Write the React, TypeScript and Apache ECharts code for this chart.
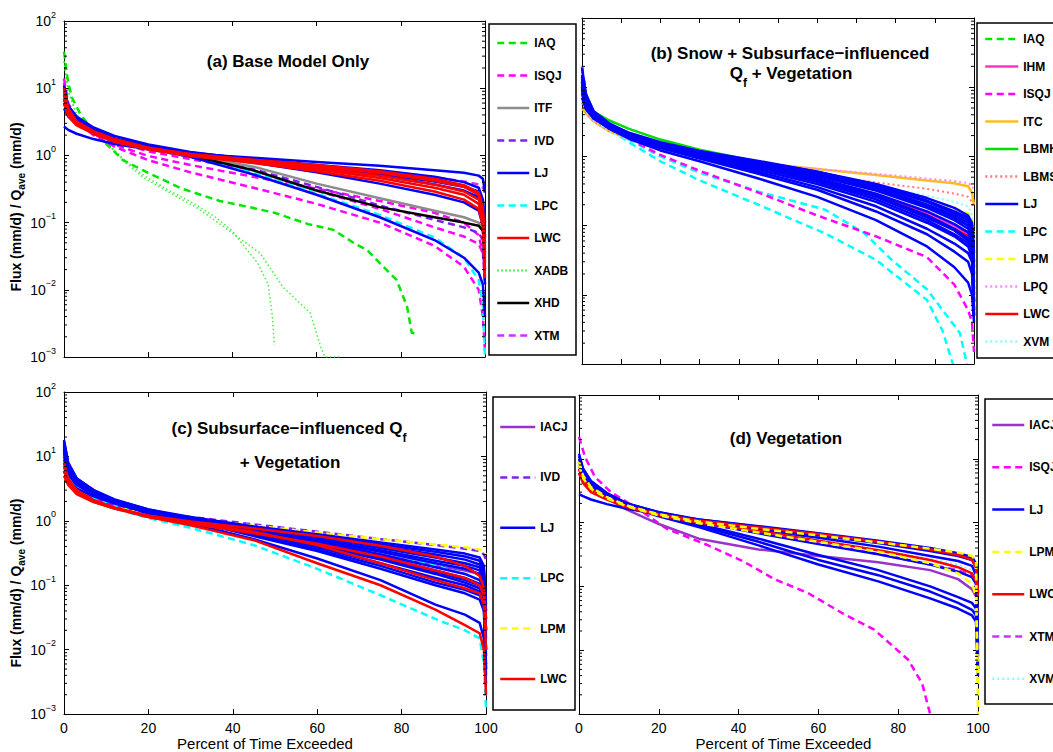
import React, { useEffect, useRef } from "react";
import * as echarts from "echarts";

const F = "Liberation Sans";

// common percent grid
const P = [0, 1, 3, 7, 12, 20, 30, 45, 60, 75, 88, 95, 98.5, 99.5, 100];

// log minor tick values
const MINOR_TICKS = [
  0.002, 0.003, 0.004, 0.005, 0.006, 0.007, 0.008, 0.009,
  0.02, 0.03, 0.04, 0.05, 0.06, 0.07, 0.08, 0.09,
  0.2, 0.3, 0.4, 0.5, 0.6, 0.7, 0.8, 0.9,
  2, 3, 4, 5, 6, 7, 8, 9,
  20, 30, 40, 50, 60, 70, 80, 90,
];

// ---------- panel (a) ----------
const A_IAQ_X = [0, 0.5, 1, 2, 4, 7, 10, 14, 20, 28, 37, 44, 50, 58, 64, 69, 72, 75, 79, 81.5, 82.6, 84];
const A_IAQ = [35, 20, 12, 7, 4, 2.3, 1.5, 0.85, 0.55, 0.32, 0.21, 0.17, 0.14, 0.095, 0.078, 0.049, 0.039, 0.025, 0.014, 0.0056, 0.0023, 0.0022];
const A_XADB1_X = [0, 1, 3, 7, 10, 14, 19, 25, 31, 36, 40, 43, 46, 48.5, 49.5, 50];
const A_XADB1 = [25, 9, 4, 2.2, 1.6, 0.9, 0.5, 0.3, 0.19, 0.12, 0.075, 0.043, 0.025, 0.012, 0.004, 0.0015];
const A_XADB2_X = [0, 1, 3, 7, 10, 14, 19, 25, 32, 40, 46.6, 52, 58.5, 61, 62, 66];
const A_XADB2 = [25, 9, 4, 2.2, 1.55, 0.85, 0.46, 0.28, 0.16, 0.07, 0.035, 0.011, 0.0045, 0.0014, 0.001, 0.001];
const A_ISQJ1 = [14, 6, 3.5, 2.1, 1.45, 0.98, 0.72, 0.48, 0.32, 0.21, 0.14, 0.1, 0.065, 0.035, 0.012];
const A_ISQJ2 = [12, 5, 3.2, 2.0, 1.35, 0.85, 0.56, 0.33, 0.19, 0.1, 0.045, 0.022, 0.01, 0.004, 0.0012];
const A_ISQJ3 = [10, 5, 3.2, 2.2, 1.6, 1.15, 0.88, 0.6, 0.3, 0.16, 0.085, 0.062, 0.048, 0.035, 0.02];
const A_LPC = [9, 5, 3.4, 2.3, 1.7, 1.25, 0.95, 0.56, 0.27, 0.13, 0.06, 0.03, 0.014, 0.006, 0.001];
const A_XTM = [6, 4, 3, 2.3, 1.75, 1.35, 1.08, 0.86, 0.69, 0.57, 0.47, 0.41, 0.37, 0.33, 0.28];
const A_IVD = [7, 4.2, 3, 2.2, 1.65, 1.25, 0.95, 0.62, 0.34, 0.18, 0.11, 0.085, 0.07, 0.055, 0.04];
const A_ITF = [7, 4.5, 3.1, 2.2, 1.7, 1.3, 1.0, 0.68, 0.38, 0.23, 0.15, 0.12, 0.1, 0.08, 0.035];
const A_XHD = [8, 5, 3.3, 2.3, 1.75, 1.3, 1.0, 0.6, 0.3, 0.17, 0.12, 0.1, 0.09, 0.075, 0.035];
const A_LJ1 = [2.7, 2.4, 2.1, 1.75, 1.48, 1.23, 1.06, 0.92, 0.8, 0.7, 0.6, 0.55, 0.5, 0.45, 0.28];
const A_LJ2 = [9, 5.5, 3.8, 2.6, 1.95, 1.45, 1.12, 0.86, 0.66, 0.5, 0.37, 0.3, 0.24, 0.16, 0.05];
const A_LJ3 = [7, 4.5, 3.3, 2.4, 1.8, 1.35, 1.05, 0.78, 0.56, 0.38, 0.26, 0.2, 0.15, 0.09, 0.012];
const A_LJ4 = [11, 5.5, 3.5, 2.4, 1.75, 1.3, 0.95, 0.52, 0.26, 0.12, 0.055, 0.03, 0.018, 0.012, 0.004];
const A_LJ5 = [6, 4, 3, 2.3, 1.75, 1.35, 1.08, 0.85, 0.68, 0.53, 0.41, 0.34, 0.29, 0.21, 0.1];
const A_LJ6 = [5, 3.8, 2.9, 2.25, 1.75, 1.38, 1.1, 0.88, 0.72, 0.6, 0.48, 0.4, 0.33, 0.22, 0.06];
const A_LWC1 = [8, 4.5, 3.0, 2.2, 1.7, 1.3, 1.05, 0.86, 0.72, 0.58, 0.45, 0.36, 0.28, 0.17, 0.04];
const A_LWC2 = [10, 5, 3.2, 2.3, 1.75, 1.3, 1.02, 0.82, 0.65, 0.5, 0.37, 0.29, 0.22, 0.14, 0.03];
const A_LWC3 = [6, 3.8, 2.8, 2.1, 1.6, 1.25, 1.0, 0.8, 0.62, 0.46, 0.33, 0.26, 0.19, 0.11, 0.02];
const A_LWC4 = [7, 4.2, 2.9, 2.1, 1.6, 1.22, 0.98, 0.77, 0.58, 0.42, 0.29, 0.22, 0.16, 0.09, 0.015];
const A_LWC5 = [9, 4.8, 3.1, 2.2, 1.68, 1.28, 1.03, 0.84, 0.69, 0.55, 0.42, 0.34, 0.26, 0.14, 0.025];

// ---------- panel (b) ----------
const B_LPC1_X = [0, 1, 3, 7, 12, 20, 30, 45, 62, 72, 79, 88, 96.4, 98.2];
const B_LPC1 = [20, 8, 4.3, 2.6, 1.75, 1.0, 0.58, 0.31, 0.17, 0.078, 0.032, 0.012, 0.0028, 0.001];
const B_LPC2_X = [0, 1, 3, 7, 12, 20, 30, 45, 62, 75, 88, 92, 94.6];
const B_LPC2 = [18, 8, 4.2, 2.5, 1.6, 0.85, 0.45, 0.2, 0.077, 0.032, 0.0084, 0.003, 0.001];
const B_ISQJ = [20, 8, 4.2, 2.6, 1.8, 1.05, 0.62, 0.3, 0.14, 0.07, 0.035, 0.014, 0.006, 0.004, 0.0015];
const B_ITC = [5, 4.2, 3.2, 2.3, 1.8, 1.35, 1.02, 0.8, 0.66, 0.54, 0.45, 0.41, 0.37, 0.3, 0.2];
const B_LPQ = [6, 4.5, 3.3, 2.4, 1.8, 1.35, 1.02, 0.8, 0.66, 0.56, 0.48, 0.44, 0.41, 0.38, 0.33];
const B_LBMS = [6, 4.3, 3.2, 2.3, 1.75, 1.3, 0.98, 0.72, 0.55, 0.42, 0.34, 0.29, 0.26, 0.22, 0.18];
const B_XVM = [7, 4.5, 3.3, 2.3, 1.7, 1.25, 0.95, 0.72, 0.52, 0.37, 0.27, 0.22, 0.19, 0.14, 0.06];
const B_LBMH = [12, 6.5, 4.4, 3.3, 2.5, 1.75, 1.25, 0.84, 0.57, 0.36, 0.2, 0.13, 0.1, 0.07, 0.005];
const B_IAQ = [10, 6, 4, 2.8, 2.1, 1.5, 1.1, 0.78, 0.55, 0.35, 0.2, 0.14, 0.11, 0.08, 0.03];
const B_IHM = [9, 5.5, 3.7, 2.6, 1.95, 1.4, 1.02, 0.7, 0.46, 0.28, 0.15, 0.1, 0.075, 0.05, 0.01];
const B_LWC = [10, 5.8, 3.8, 2.7, 2.0, 1.42, 1.04, 0.7, 0.47, 0.28, 0.14, 0.09, 0.07, 0.05, 0.008];
const B_LPM = [9, 5.5, 3.8, 2.7, 2.0, 1.45, 1.08, 0.8, 0.58, 0.38, 0.24, 0.18, 0.15, 0.12, 0.08];
const B_LJ1 = [12, 6.5, 4.2, 2.9, 2.2, 1.6, 1.2, 0.86, 0.6, 0.38, 0.23, 0.16, 0.13, 0.1, 0.03];
const B_LJ2 = [10, 6, 4, 2.8, 2.1, 1.5, 1.12, 0.8, 0.56, 0.35, 0.2, 0.14, 0.11, 0.08, 0.02];
const B_LJ3 = [9, 5.5, 3.8, 2.7, 2.0, 1.45, 1.08, 0.76, 0.52, 0.32, 0.18, 0.12, 0.09, 0.065, 0.012];
const B_LJ4 = [15, 7, 4.3, 2.9, 2.1, 1.5, 1.1, 0.74, 0.49, 0.29, 0.16, 0.105, 0.08, 0.055, 0.01];
const B_LJ5 = [8, 5, 3.6, 2.6, 1.95, 1.42, 1.05, 0.72, 0.47, 0.27, 0.14, 0.09, 0.065, 0.045, 0.008];
const B_LJ6 = [11, 6, 3.9, 2.7, 2.0, 1.4, 1.02, 0.68, 0.43, 0.24, 0.12, 0.075, 0.055, 0.04, 0.006];
const B_LJ7 = [13, 6.5, 4.0, 2.7, 1.95, 1.36, 0.97, 0.6, 0.36, 0.19, 0.09, 0.055, 0.04, 0.03, 0.005];
const B_LJ8 = [9, 5.5, 3.6, 2.5, 1.8, 1.22, 0.85, 0.48, 0.26, 0.12, 0.05, 0.025, 0.015, 0.01, 0.004];
const B_LJ9 = [10, 5.8, 3.9, 2.75, 2.05, 1.48, 1.1, 0.78, 0.54, 0.34, 0.19, 0.13, 0.1, 0.075, 0.015];
const B_LJ10 = [12, 6.2, 4.1, 2.85, 2.1, 1.52, 1.14, 0.82, 0.58, 0.37, 0.22, 0.15, 0.12, 0.09, 0.025];
const B_LJ11 = [9.5, 5.6, 3.7, 2.6, 1.9, 1.32, 0.93, 0.56, 0.33, 0.16, 0.075, 0.042, 0.03, 0.02, 0.005];
const B_LJ12 = [14, 6.8, 4.2, 2.85, 2.05, 1.46, 1.06, 0.7, 0.45, 0.26, 0.13, 0.085, 0.06, 0.045, 0.008];
const B_LJ13 = [19, 8, 4.5, 3.0, 2.15, 1.55, 1.15, 0.84, 0.6, 0.4, 0.25, 0.18, 0.14, 0.11, 0.04];
const B_LJ14 = [7, 4.8, 3.5, 2.55, 1.9, 1.38, 1.0, 0.64, 0.4, 0.22, 0.11, 0.07, 0.05, 0.035, 0.006];

// ---------- panel (c) ----------
const C_LPC1 = [6, 4, 2.8, 2.0, 1.55, 1.1, 0.78, 0.42, 0.18, 0.07, 0.03, 0.02, 0.015, 0.006, 0.0012];
const C_LPC2 = [8, 5, 3.3, 2.3, 1.75, 1.3, 1.0, 0.7, 0.5, 0.34, 0.2, 0.15, 0.12, 0.1, 0.05];
const C_IVD = [6, 4, 2.8, 2.1, 1.7, 1.35, 1.15, 0.88, 0.68, 0.52, 0.42, 0.37, 0.34, 0.3, 0.25];
const C_LPM = [5, 3.6, 2.6, 2.0, 1.6, 1.3, 1.08, 0.84, 0.66, 0.52, 0.43, 0.39, 0.36, 0.33, 0.3];
const C_IACJ = [7, 4.5, 3.1, 2.3, 1.8, 1.35, 1.05, 0.72, 0.48, 0.3, 0.2, 0.17, 0.15, 0.12, 0.04];
const C_LJ1 = [14, 7, 4.3, 2.9, 2.1, 1.5, 1.15, 0.82, 0.62, 0.46, 0.36, 0.31, 0.27, 0.2, 0.05];
const C_LJ2 = [12, 6.5, 4.1, 2.8, 2.05, 1.45, 1.1, 0.78, 0.57, 0.4, 0.3, 0.25, 0.21, 0.15, 0.03];
const C_LJ3 = [16, 7.5, 4.5, 3.0, 2.15, 1.5, 1.1, 0.74, 0.52, 0.35, 0.24, 0.2, 0.17, 0.12, 0.02];
const C_LJ4 = [10, 6, 3.9, 2.7, 2.0, 1.42, 1.05, 0.7, 0.48, 0.3, 0.19, 0.15, 0.12, 0.09, 0.01];
const C_LJ5 = [18, 8, 4.6, 3.0, 2.1, 1.45, 1.05, 0.66, 0.43, 0.26, 0.16, 0.12, 0.1, 0.07, 0.008];
const C_LJ6 = [9, 5.5, 3.7, 2.6, 1.95, 1.38, 1.0, 0.62, 0.39, 0.22, 0.13, 0.1, 0.08, 0.05, 0.006];
const C_LJ7 = [13, 6.8, 4.2, 2.8, 2.0, 1.4, 1.0, 0.58, 0.34, 0.18, 0.1, 0.075, 0.06, 0.04, 0.004];
const C_LJ8 = [11, 6, 3.9, 2.6, 1.9, 1.3, 0.92, 0.52, 0.26, 0.12, 0.05, 0.035, 0.026, 0.015, 0.003];
const C_LJ9 = [15, 7, 4.3, 2.85, 2.05, 1.44, 1.07, 0.72, 0.5, 0.33, 0.22, 0.18, 0.15, 0.11, 0.015];
const C_LJ10 = [8, 5.2, 3.6, 2.55, 1.9, 1.36, 1.0, 0.64, 0.41, 0.25, 0.15, 0.11, 0.09, 0.06, 0.005];
const C_LJ11 = [12, 6.4, 4.0, 2.75, 2.0, 1.4, 1.03, 0.68, 0.45, 0.28, 0.17, 0.13, 0.105, 0.08, 0.01];
const C_LJ12 = [17, 7.6, 4.5, 2.95, 2.1, 1.47, 1.1, 0.76, 0.55, 0.38, 0.27, 0.22, 0.19, 0.14, 0.04];
const C_LJ13 = [6, 4.3, 3.2, 2.4, 1.85, 1.34, 1.0, 0.6, 0.36, 0.2, 0.11, 0.085, 0.07, 0.05, 0.005];
const C_LJ14 = [13, 6.6, 4.2, 2.8, 2.05, 1.46, 1.12, 0.8, 0.6, 0.43, 0.33, 0.28, 0.24, 0.17, 0.02];
const C_LWC1 = [8, 4.5, 3.0, 2.1, 1.6, 1.15, 0.85, 0.5, 0.22, 0.1, 0.042, 0.024, 0.018, 0.01, 0.002];
const C_LWC2 = [6, 4, 2.8, 2.0, 1.55, 1.15, 0.9, 0.64, 0.44, 0.28, 0.17, 0.13, 0.1, 0.07, 0.02];
const C_LWC3 = [5, 3.6, 2.6, 1.95, 1.55, 1.2, 0.98, 0.76, 0.58, 0.41, 0.28, 0.2, 0.14, 0.09, 0.03];
const C_LWC4 = [7, 4.2, 2.9, 2.1, 1.6, 1.2, 0.95, 0.68, 0.42, 0.22, 0.12, 0.09, 0.075, 0.05, 0.01];

// ---------- panel (d) ----------
const D_ISQJ_X = [0, 1.5, 4, 8, 12, 16, 22, 32, 41, 49, 57.5, 66, 74, 82.5, 86, 88];
const D_ISQJ = [22, 10.7, 5.2, 3.0, 2.1, 1.45, 0.8, 0.45, 0.25, 0.13, 0.078, 0.038, 0.021, 0.0071, 0.003, 0.001];
const D_XTM = [7, 4.8, 3.4, 2.4, 1.8, 1.32, 1.0, 0.7, 0.48, 0.32, 0.22, 0.18, 0.15, 0.11, 0.03];
const D_XVM = [8, 5, 3.5, 2.5, 1.85, 1.35, 1.02, 0.74, 0.54, 0.38, 0.27, 0.22, 0.18, 0.13, 0.02];
const D_IACJ = [8, 5, 3.5, 2.4, 1.6, 0.95, 0.56, 0.38, 0.3, 0.24, 0.18, 0.13, 0.09, 0.07, 0.04];
const D_LJ1 = [2.8, 2.6, 2.3, 1.95, 1.65, 1.35, 1.12, 0.88, 0.68, 0.52, 0.4, 0.33, 0.29, 0.23, 0.08];
const D_LJ2 = [10, 6.5, 4.2, 2.8, 2.0, 1.45, 1.12, 0.86, 0.66, 0.5, 0.38, 0.31, 0.27, 0.2, 0.01];
const D_LJ3 = [8, 5.5, 3.8, 2.6, 1.9, 1.38, 1.06, 0.78, 0.58, 0.42, 0.3, 0.25, 0.21, 0.15, 0.006];
const D_LJ4 = [11, 7, 4.5, 2.9, 2.0, 1.38, 0.95, 0.56, 0.31, 0.18, 0.1, 0.068, 0.055, 0.045, 0.005];
const D_LJ5 = [7, 5, 3.6, 2.5, 1.8, 1.25, 0.85, 0.44, 0.22, 0.12, 0.065, 0.045, 0.035, 0.028, 0.004];
const D_LJ6 = [9, 6, 4, 2.7, 1.95, 1.4, 1.02, 0.68, 0.46, 0.32, 0.22, 0.17, 0.14, 0.11, 0.008];
const D_LJ7 = [6, 4.5, 3.4, 2.5, 1.85, 1.3, 0.9, 0.5, 0.26, 0.15, 0.083, 0.055, 0.043, 0.035, 0.005];
const D_LJ8 = [12, 7, 4.4, 2.85, 2.0, 1.45, 1.1, 0.82, 0.63, 0.48, 0.36, 0.3, 0.26, 0.2, 0.012];
const D_LWC1 = [7, 4.8, 3.4, 2.4, 1.8, 1.35, 1.08, 0.84, 0.66, 0.5, 0.38, 0.31, 0.26, 0.2, 0.08];
const D_LWC2 = [6, 4.2, 3.0, 2.3, 1.75, 1.3, 1.0, 0.74, 0.52, 0.37, 0.26, 0.2, 0.16, 0.12, 0.07];
const D_LPM1 = [9, 5.5, 3.6, 2.5, 1.85, 1.35, 1.04, 0.8, 0.63, 0.49, 0.39, 0.34, 0.3, 0.25, 0.001];
const D_LPM2 = [8, 5, 3.4, 2.4, 1.8, 1.3, 0.98, 0.7, 0.5, 0.35, 0.23, 0.16, 0.11, 0.07, 0.003];

// legend lists
const LEG_A = ["IAQ", "ISQJ", "ITF", "IVD", "LJ", "LPC", "LWC", "XADB", "XHD", "XTM"];
const LEG_B = ["IAQ", "IHM", "ISQJ", "ITC", "LBMH", "LBMS", "LJ", "LPC", "LPM", "LPQ", "LWC", "XVM"];
const LEG_C = ["IACJ", "IVD", "LJ", "LPC", "LPM", "LWC"];
const LEG_D = ["IACJ", "ISQJ", "LJ", "LPM", "LWC", "XTM", "XVM"];

type Sty = { color: string; type: any; width: number };
const DASH = [7, 4.5];
const STY: Record<string, Sty> = {
  IAQ: { color: "#00e600", type: DASH, width: 2.5 },
  ISQJ: { color: "#ff00ff", type: DASH, width: 2.5 },
  ITF: { color: "#8c8c8c", type: "solid", width: 2.5 },
  IVD: { color: "#8020f0", type: DASH, width: 2.5 },
  LJ: { color: "#0000ff", type: "solid", width: 2.5 },
  LPC: { color: "#00ffff", type: DASH, width: 2.5 },
  LWC: { color: "#ff0000", type: "solid", width: 2.5 },
  XADB: { color: "#44ee44", type: [1.5, 2.5], width: 1.5 },
  XHD: { color: "#000000", type: "solid", width: 2.5 },
  XTM: { color: "#cc33ff", type: DASH, width: 2.5 },
  IHM: { color: "#ff33cc", type: "solid", width: 2.5 },
  ITC: { color: "#ffbb22", type: "solid", width: 2.5 },
  LBMH: { color: "#00dd00", type: "solid", width: 2.5 },
  LBMS: { color: "#ff7777", type: [2, 3], width: 2 },
  LPM: { color: "#ffff00", type: DASH, width: 2.5 },
  LPQ: { color: "#ff88ff", type: [2, 3], width: 2 },
  XVM: { color: "#88ffff", type: [2, 3], width: 2 },
  IACJ: { color: "#9933cc", type: "solid", width: 2.5 },
};

type Curve = [string, number[], number[]];
const CURVES: Curve[][] = [
  [
    ["XADB", A_XADB1_X, A_XADB1], ["XADB", A_XADB2_X, A_XADB2], ["IAQ", A_IAQ_X, A_IAQ],
    ["ISQJ", P, A_ISQJ1], ["ISQJ", P, A_ISQJ2], ["ISQJ", P, A_ISQJ3], ["LPC", P, A_LPC],
    ["XTM", P, A_XTM], ["IVD", P, A_IVD], ["ITF", P, A_ITF], ["XHD", P, A_XHD],
    ["LJ", P, A_LJ1], ["LJ", P, A_LJ2], ["LJ", P, A_LJ3], ["LJ", P, A_LJ4], ["LJ", P, A_LJ5], ["LJ", P, A_LJ6],
    ["LWC", P, A_LWC1], ["LWC", P, A_LWC2], ["LWC", P, A_LWC3], ["LWC", P, A_LWC4], ["LWC", P, A_LWC5],
  ],
  [
    ["LPC", B_LPC1_X, B_LPC1], ["LPC", B_LPC2_X, B_LPC2], ["ISQJ", P, B_ISQJ], ["ITC", P, B_ITC],
    ["LPQ", P, B_LPQ], ["LBMS", P, B_LBMS], ["XVM", P, B_XVM], ["LBMH", P, B_LBMH], ["IAQ", P, B_IAQ],
    ["IHM", P, B_IHM], ["LWC", P, B_LWC], ["LPM", P, B_LPM],
    ["LJ", P, B_LJ1], ["LJ", P, B_LJ2], ["LJ", P, B_LJ3], ["LJ", P, B_LJ4], ["LJ", P, B_LJ5], ["LJ", P, B_LJ6],
    ["LJ", P, B_LJ7], ["LJ", P, B_LJ8], ["LJ", P, B_LJ9], ["LJ", P, B_LJ10], ["LJ", P, B_LJ11], ["LJ", P, B_LJ12],
    ["LJ", P, B_LJ13], ["LJ", P, B_LJ14],
  ],
  [
    ["IACJ", P, C_IACJ], ["LPC", P, C_LPC1], ["LPC", P, C_LPC2], ["IVD", P, C_IVD], ["LPM", P, C_LPM],
    ["LJ", P, C_LJ1], ["LJ", P, C_LJ2], ["LJ", P, C_LJ3], ["LJ", P, C_LJ4], ["LJ", P, C_LJ5], ["LJ", P, C_LJ6],
    ["LJ", P, C_LJ7], ["LJ", P, C_LJ8], ["LJ", P, C_LJ9], ["LJ", P, C_LJ10], ["LJ", P, C_LJ11], ["LJ", P, C_LJ12],
    ["LJ", P, C_LJ13], ["LJ", P, C_LJ14],
    ["LWC", P, C_LWC1], ["LWC", P, C_LWC2], ["LWC", P, C_LWC3], ["LWC", P, C_LWC4],
  ],
  [
    ["ISQJ", D_ISQJ_X, D_ISQJ], ["XTM", P, D_XTM], ["XVM", P, D_XVM], ["IACJ", P, D_IACJ],
    ["LJ", P, D_LJ1], ["LJ", P, D_LJ2], ["LJ", P, D_LJ3], ["LJ", P, D_LJ4], ["LJ", P, D_LJ5], ["LJ", P, D_LJ6],
    ["LJ", P, D_LJ7], ["LJ", P, D_LJ8],
    ["LWC", P, D_LWC1], ["LWC", P, D_LWC2], ["LPM", P, D_LPM1], ["LPM", P, D_LPM2],
  ],
];

const GRIDS = [
  { left: 64, top: 21, width: 421, height: 336 },
  { left: 582, top: 18, width: 392, height: 346 },
  { left: 64, top: 392, width: 422, height: 323 },
  { left: 579, top: 395, width: 399, height: 319 },
];

const yFmt = (v: number) => {
  const e = Math.round(Math.log10(v));
  return `{b|10}{s|${e < 0 ? "\u2212" + -e : e}}`;
};

function buildOption() {
  const xAxis: any[] = [];
  const yAxis: any[] = [];
  const series: any[] = [];
  const axLine = { show: true, onZero: false, lineStyle: { color: "#000", width: 1 } };
  const tick = { show: true, inside: true, length: 5, lineStyle: { color: "#000", width: 1 } };
  const panelCfg = [
    { xInt: 20, xLab: false, yLab: true, yGap: 32, yPad: [0, 36, 0, 0], xPad: [0, 0, 0, 0] },
    { xInt: 10, xLab: false, yLab: false, yGap: 32, yPad: [0, 0, 0, 0], xPad: [0, 0, 0, 0] },
    { xInt: 20, xLab: true, yLab: true, yGap: 37, yPad: [0, 60, 0, 0], xPad: [0, 20, 0, 0] },
    { xInt: 20, xLab: true, yLab: false, yGap: 32, yPad: [0, 0, 0, 0], xPad: [0, 0, 0, 10] },
  ];
  panelCfg.forEach((c, g) => {
    xAxis.push({
      type: "value", gridIndex: g, min: 0, max: 100, interval: c.xInt, position: "bottom",
      axisLine: axLine, axisTick: tick, splitLine: { show: false },
      axisLabel: { show: c.xLab, color: "#000", fontSize: 14, fontFamily: F, margin: 7 },
      name: c.xLab ? "Percent of Time Exceeded" : "", nameLocation: "middle", nameGap: 21,
      nameTextStyle: { color: "#000", fontSize: 15, fontFamily: F, padding: c.xPad },
    });
    xAxis.push({
      type: "value", gridIndex: g, min: 0, max: 100, interval: c.xInt, position: "top",
      axisLine: axLine, axisTick: tick, splitLine: { show: false }, axisLabel: { show: false },
    });
    yAxis.push({
      type: "log", logBase: 10, gridIndex: g, min: 0.001, max: 100, position: "left",
      axisLine: axLine, axisTick: tick, splitLine: { show: false },
      axisLabel: {
        show: c.yLab, formatter: yFmt, margin: 8,
        rich: {
          b: { fontSize: 14, fontFamily: F, color: "#000", lineHeight: 16 },
          s: { fontSize: 9, fontFamily: F, color: "#000", lineHeight: 16, padding: [0, 0, 13, 0] },
        },
      },
      name: c.yLab ? "Flux (mm/d) / Q{sub|ave} (mm/d)" : "", nameLocation: "middle", nameGap: c.yGap,
      nameTextStyle: {
        color: "#000", fontSize: 14, fontWeight: "bold", fontFamily: F, padding: c.yPad, lineHeight: 16,
        rich: { sub: { fontSize: 10, fontWeight: "bold", fontFamily: F, color: "#000", lineHeight: 16, padding: [10, 0, 0, 0] } },
      },
    });
    yAxis.push({
      type: "log", logBase: 10, gridIndex: g, min: 0.001, max: 100, position: "right",
      axisLine: axLine, axisTick: tick, splitLine: { show: false }, axisLabel: { show: false },
    });
    CURVES[g].forEach(([name, xs, ys]) => {
      const s = STY[name];
      series.push({
        type: "line", name, xAxisIndex: g * 2, yAxisIndex: g * 2,
        data: xs.map((x, i) => [x, ys[i]]),
        symbol: "none", showSymbol: false, silent: true, color: s.color,
        lineStyle: { color: s.color, width: s.width, type: s.type, cap: "butt", join: "round" },
        emphasis: { disabled: true }, clip: true,
      });
    });
    series.push({
      type: "custom", xAxisIndex: g * 2, yAxisIndex: g * 2, silent: true, clip: false, z: 5,
      data: MINOR_TICKS.map((v) => [0, v]),
      renderItem: (params: any, api: any) => {
        const v = api.value(1);
        const l = api.coord([0, v]);
        const r = api.coord([100, v]);
        return {
          type: "group",
          children: [
            { type: "line", shape: { x1: l[0], y1: l[1], x2: l[0] + 3, y2: l[1] }, style: { stroke: "#000", lineWidth: 1 } },
            { type: "line", shape: { x1: r[0] - 3, y1: r[1], x2: r[0], y2: r[1] }, style: { stroke: "#000", lineWidth: 1 } },
          ],
        };
      },
    });
  });

  const legTxt = { fontFamily: F, fontWeight: "bold", fontSize: 12, color: "#000", lineHeight: 14 };
  const mkLeg = (data: string[], left: number, top: number, gap: number, w: number) => ({
    data, left, top, orient: "vertical", itemGap: gap, itemWidth: w, itemHeight: 14, padding: 0,
    selectedMode: false, textStyle: legTxt, z: 10,
    itemStyle: { opacity: 0, borderWidth: 0 },
    lineStyle: { width: 2.5 },
  });
  const legend = [
    mkLeg(LEG_A, 496, 36, 18.5, 32),
    mkLeg(LEG_B, 984, 32, 13.5, 33),
    mkLeg(LEG_C, 499, 420, 36.4, 35),
    mkLeg(LEG_D, 991, 418, 28.3, 32),
  ];

  const tStyle = {
    fontFamily: F, fontWeight: "bold", fontSize: 17, color: "#000", lineHeight: 20,
    rich: {
      n: { fontFamily: F, fontWeight: "bold", fontSize: 17, color: "#000", lineHeight: 20 },
      s: { fontFamily: F, fontWeight: "bold", fontSize: 12, color: "#000", lineHeight: 20, padding: [20, 0, 0, 0] },
    },
  };
  const mkTitle = (text: string, left: number, top: number) => ({ text, left, top, textAlign: "center", padding: 0, textStyle: tStyle });
  const title = [
    mkTitle("(a) Base Model Only", 288, 51),
    mkTitle("(b) Snow + Subsurface\u2212influenced", 790, 43),
    mkTitle("{n|Q}{s|f}{n| + Vegetation}", 791, 63),
    mkTitle("(c) Subsurface\u2212influenced {n|Q}{s|f}", 289, 418),
    mkTitle("+ Vegetation", 290, 452),
    mkTitle("(d) Vegetation", 786, 428),
  ];

  const boxes = [
    { x: 489, y: 24, width: 87, height: 331 },
    { x: 977, y: 23, width: 90, height: 335 },
    { x: 493, y: 397, width: 82, height: 313 },
    { x: 985, y: 399, width: 90, height: 305 },
  ];
  const graphic = boxes.map((b) => ({
    type: "rect", shape: b, z: 0, silent: true,
    style: { fill: "#fff", stroke: "#000", lineWidth: 1.5 },
  }));

  return {
    animation: false,
    backgroundColor: "#fff",
    textStyle: { fontFamily: F },
    grid: GRIDS.map((g) => ({ ...g, containLabel: false })),
    xAxis, yAxis, series, legend, title, graphic,
  };
}

export default function App() {
  const ref = useRef<HTMLDivElement>(null);
  useEffect(() => {
    document.body.style.margin = "0";
    if (!ref.current) return;
    const chart = echarts.init(ref.current, undefined, { renderer: "svg" });
    chart.setOption(buildOption() as any);
    return () => chart.dispose();
  }, []);
  return <div ref={ref} style={{ width: 1053, height: 752 }} />;
}
